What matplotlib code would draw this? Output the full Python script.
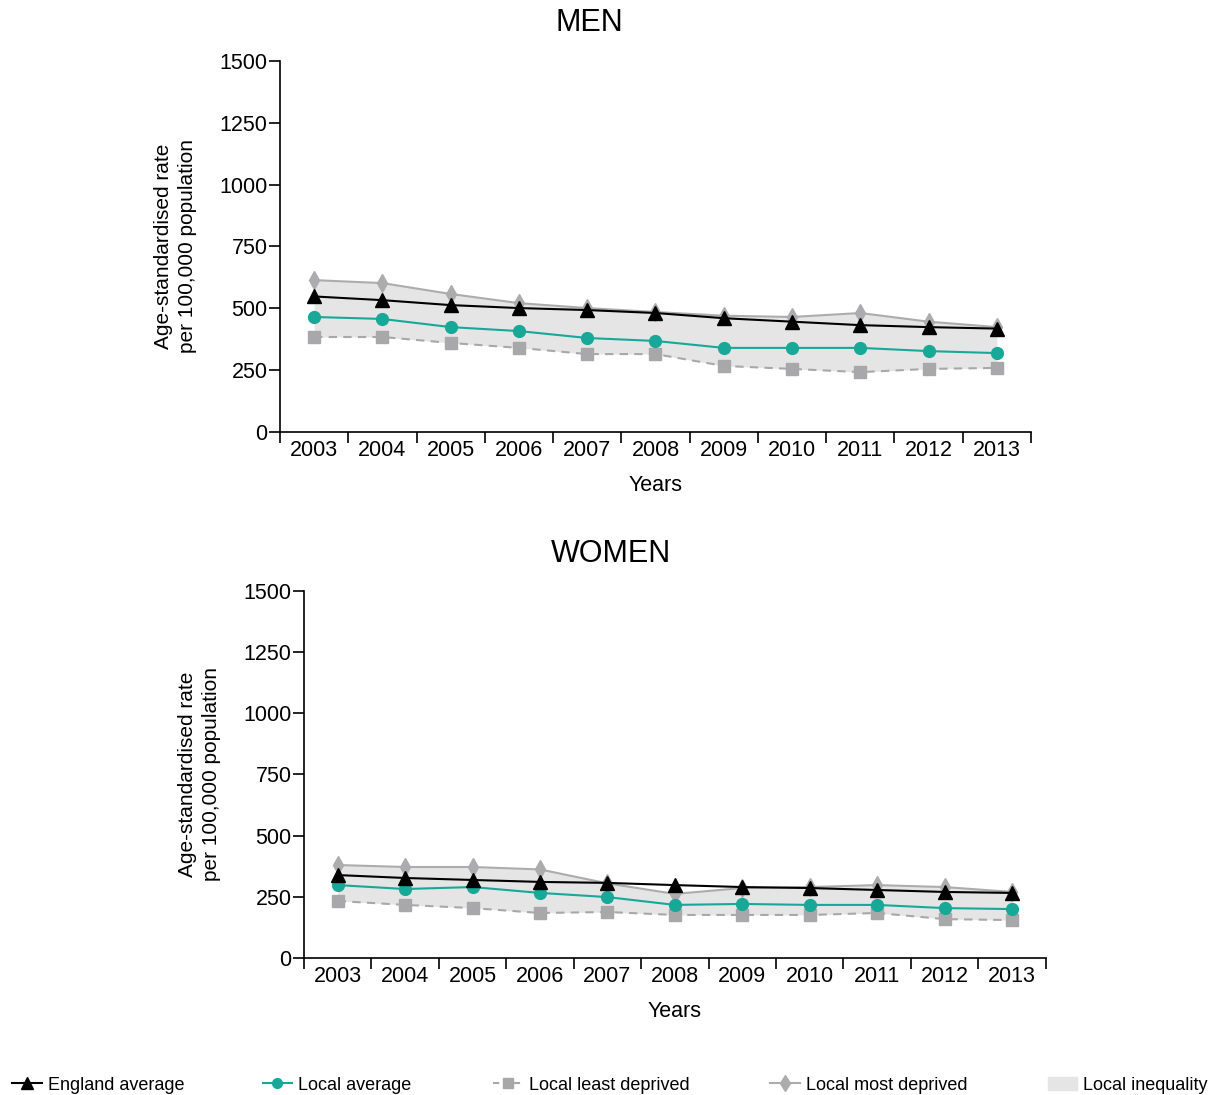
import numpy as np
from matplotlib import pyplot as plt
from matplotlib.lines import Line2D
from matplotlib.patches import Patch

plt.rcParams['font.family'] = ['Liberation Sans', 'DejaVu Sans']

years = [2003, 2004, 2005, 2006, 2007, 2008, 2009, 2010, 2011, 2012, 2013]

# MEN
men_england = [548, 533, 513, 501, 493, 481, 460, 446, 432, 424, 418]
men_local = [465, 457, 424, 408, 380, 368, 340, 340, 340, 327, 319]
men_least = [384, 384, 360, 340, 315, 315, 267, 255, 242, 255, 259]
men_most = [614, 602, 558, 521, 501, 485, 470, 465, 481, 446, 424]

# WOMEN
women_england = [339, 327, 319, 311, 307, 298, 290, 286, 278, 270, 266]
women_local = [298, 282, 290, 266, 249, 217, 221, 217, 217, 204, 200]
women_least = [233, 217, 204, 184, 188, 176, 176, 176, 184, 159, 155]
women_most = [380, 372, 372, 362, 305, 262, 286, 290, 298, 290, 270]

c_eng = '#000000'
c_local = '#17a898'
c_least = '#a8a8aa'
c_most = '#acacae'
c_fill = '#e5e5e5'


def draw_panel(ax, eng, local, least, most):
    x = np.array(years)
    ax.fill_between(x, least, most, color=c_fill, lw=0, zorder=1)
    ax.plot(x, least, color=c_least, ls=(0, (4, 3)), lw=1.5, marker='s',
            ms=9, zorder=2)
    ax.plot(x, most, color=c_most, lw=1.5, marker='d', ms=9, zorder=3)
    ax.plot(x, local, color=c_local, lw=1.5, marker='o', ms=8.5, zorder=4)
    ax.plot(x, eng, color=c_eng, lw=1.5, marker='^', ms=10, zorder=5)

    ax.set_xlim(2002.5, 2013.5)
    ax.set_ylim(0, 1500)
    ax.set_yticks([0, 250, 500, 750, 1000, 1250, 1500])
    ax.set_xticks(years)
    ax.set_xticks(np.arange(2002.5, 2014, 1), minor=True)
    ax.tick_params(axis='x', which='major', length=0, labelsize=15.5, pad=6)
    ax.tick_params(axis='x', which='minor', length=8, width=1.2)
    ax.tick_params(axis='y', length=8, width=1.2, labelsize=15.5, pad=1)
    for s in ['top', 'right']:
        ax.spines[s].set_visible(False)
    for s in ['left', 'bottom']:
        ax.spines[s].set_linewidth(1.2)
    ax.set_xlabel('Years', fontsize=15.5, labelpad=10)
    ax.set_ylabel('Age-standardised rate\nper 100,000 population', fontsize=15,
                  labelpad=16, linespacing=1.35)


fig = plt.figure(figsize=(12.21, 10.95), dpi=100)

ax1 = fig.add_axes([0.2293, 0.6055, 0.6151, 0.3388])
draw_panel(ax1, men_england, men_local, men_least, men_most)
fig.text(0.483, 0.979, 'MEN', ha='center', va='center', fontsize=22)

ax2 = fig.add_axes([0.249, 0.1251, 0.6074, 0.3352])
draw_panel(ax2, women_england, women_local, women_least, women_most)
fig.text(0.5, 0.494, 'WOMEN', ha='center', va='center', fontsize=22)

# legend along the bottom
items = [
    (Line2D([], [], color=c_eng, lw=1.5, marker='^', ms=8), 'England average', 0.01),
    (Line2D([], [], color=c_local, lw=1.5, marker='o', ms=7), 'Local average', 0.215),
    (Line2D([], [], color=c_least, lw=1.5, ls=(0, (3, 2)), marker='s', ms=7),
     'Local least deprived', 0.404),
    (Line2D([], [], color=c_most, lw=1.5, marker='d', ms=8), 'Local most deprived', 0.631),
    (Patch(color=c_fill), 'Local inequality', 0.858),
]
for h, lab, xpos in items:
    fig.legend([h], [lab], loc='center left', bbox_to_anchor=(xpos, 0.009),
               frameon=False, fontsize=13, handlelength=1.65, handletextpad=0.33,
               borderaxespad=0, borderpad=0)

fig.savefig('out.png', dpi=100)
